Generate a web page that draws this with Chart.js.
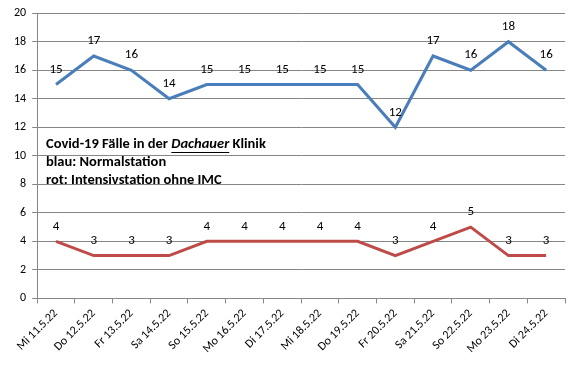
<!DOCTYPE html>
<html>
<head>
<meta charset="utf-8">
<script src="https://cdn.jsdelivr.net/npm/chart.js@4/dist/chart.umd.min.js"></script>
<style>
  html, body { margin: 0; padding: 0; background: #fff; }
  #wrap { width: 569px; height: 373px; }
</style>
</head>
<body>
<div id="wrap"><canvas id="myChart"></canvas></div>
<script>
const days = ['Mi 11.5.22', 'Do 12.5.22', 'Fr 13.5.22', 'Sa 14.5.22', 'So 15.5.22', 'Mo 16.5.22', 'Di 17.5.22',
  'Mi 18.5.22', 'Do 19.5.22', 'Fr 20.5.22', 'Sa 21.5.22', 'So 22.5.22', 'Mo 23.5.22', 'Di 24.5.22']
const normal = [15, 17, 16, 14, 15, 15, 15, 15, 15, 12, 17, 16, 18, 16]
const intensiv = [4, 3, 3, 3, 4, 4, 4, 4, 4, 3, 4, 5, 3, 3]
const yTicks = [0, 2, 4, 6, 8, 10, 12, 14, 16, 18, 20]

const font = 'Calibri, Carlito, "Open Sans", "Noto Sans", sans-serif'

// labels above every point
const pointLabels = {
  id: 'pointLabels',
  afterDatasetsDraw(chart) {
    const c = chart.ctx
    c.save()
    c.font = '13px ' + font
    c.fillStyle = '#000'
    c.textAlign = 'center'
    c.textBaseline = 'middle'
    chart.data.datasets.forEach((ds, i) => {
      chart.getDatasetMeta(i).data.forEach((pt, j) => {
        c.fillText(ds.data[j], pt.x, pt.y - 15)
      })
    })
    c.restore()
  }
}

// text box inside the plot
const infoText = {
  id: 'infoText',
  afterDraw(chart) {
    const c = chart.ctx
    const x = 46
    const f = '14.5px ' + font
    c.save()
    c.font = 'bold ' + f
    c.fillStyle = '#000'
    c.textBaseline = 'middle'
    let s1 = 'Covid-19 Fälle in der '
    c.fillText(s1, x, 144)
    let x2 = x + c.measureText(s1).width
    c.font = 'italic bold ' + f
    let s2 = 'Dachauer'
    c.fillText(s2, x2, 144)
    let w2 = c.measureText(s2).width
    c.fillRect(x2, 152, w2, 1)
    c.font = 'bold ' + f
    c.fillText(' Klinik', x2 + w2, 144)
    c.fillText('blau: Normalstation', x, 162)
    c.fillText('rot: Intensivstation ohne IMC', x, 180)
    c.restore()
  }
}

const ctx = document.getElementById('myChart')
new Chart(ctx, {
  type: 'line',
  data: {
    labels: days,
    datasets: [{
      label: 'Normalstation',
      data: normal,
      borderColor: '#4A7EBB',
      borderWidth: 3,
      pointRadius: 0,
      tension: 0,
      fill: false
    }, {
      label: 'Intensivstation',
      data: intensiv,
      borderColor: '#BE4B48',
      borderWidth: 3,
      pointRadius: 0,
      tension: 0,
      fill: false
    }]
  },
  options: {
    responsive: true,
    maintainAspectRatio: false,
    animation: false,
    layout: { padding: { left: 8, right: 4, top: 6, bottom: 14 } },
    plugins: { legend: { display: false }, tooltip: { enabled: false } },
    scales: {
      x: {
        offset: true,
        grid: { drawOnChartArea: false, offset: true, tickLength: 5, color: '#868686' },
        border: { color: '#868686' },
        ticks: { color: '#000', font: { family: font, size: 12 }, maxRotation: 45, minRotation: 45, autoSkip: false }
      },
      y: {
        min: 0,
        max: 20,
        afterBuildTicks: (axis) => { axis.ticks = yTicks.map(v => ({ value: v })) },
        grid: { color: '#868686', tickLength: 5 },
        border: { color: '#868686' },
        ticks: { color: '#000', font: { family: font, size: 12 }, padding: 6 }
      }
    }
  },
  plugins: [pointLabels, infoText]
})
</script>
</body>
</html>
